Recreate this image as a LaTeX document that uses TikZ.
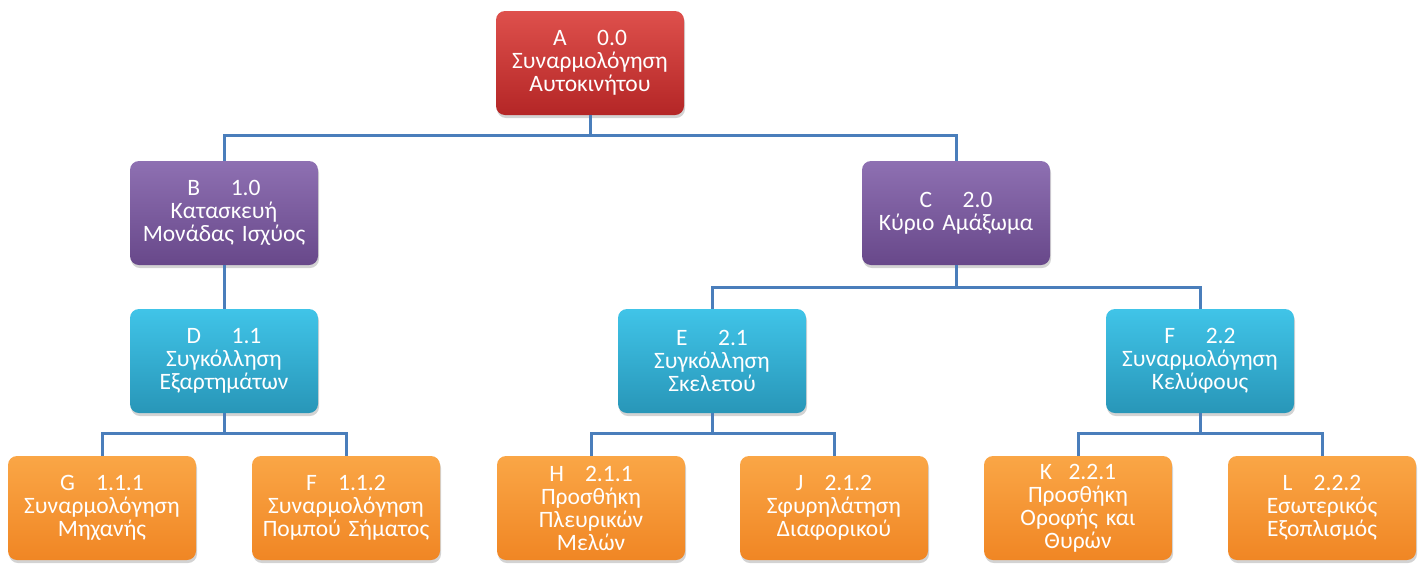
\documentclass[tikz,border=0pt]{standalone}
\usepackage{fontspec}
\setmainfont{Carlito}
\usetikzlibrary{shadows}
\definecolor{linkblue}{HTML}{4A7EBB}
\begin{document}
\begin{tikzpicture}[x=1pt,y=-1pt,
  wbsbox/.style={rounded corners=9pt, minimum width=188pt, minimum height=104pt,
    text width=184pt, align=center, text=white, inner sep=0pt,
    font=\fontsize{23.5}{23}\selectfont,
    drop shadow={shadow xshift=1pt, shadow yshift=-3pt, opacity=0.35}},
  redbox/.style={wbsbox, top color={rgb,255:red,222;green,80;blue,76}, middle color={rgb,255:red,200;green,55;blue,52}, bottom color={rgb,255:red,180;green,38;blue,38}},
  purplebox/.style={wbsbox, top color={rgb,255:red,142;green,112;blue,178}, middle color={rgb,255:red,122;green,88;blue,158}, bottom color={rgb,255:red,104;green,72;blue,138}},
  cyanbox/.style={wbsbox, top color={rgb,255:red,64;green,196;blue,232}, middle color={rgb,255:red,54;green,176;blue,212}, bottom color={rgb,255:red,40;green,150;blue,184}},
  orangebox/.style={wbsbox, top color={rgb,255:red,250;green,166;blue,70}, middle color={rgb,255:red,248;green,148;blue,50}, bottom color={rgb,255:red,240;green,134;blue,36}},
  link/.style={draw=linkblue, line width=3pt}]
\useasboundingbox (0,0) rectangle (1425,563);

% level 0
\node[redbox] (A) at (590,63) {A\hspace{1.3em}0.0\\Συναρμολόγηση\\Αυτοκινήτου};
% level 1
\node[purplebox] (B) at (224,213) {B\hspace{1.3em}1.0\\Κατασκευή\\Μονάδας Ισχύος};
\node[purplebox] (C) at (956,213) {C\hspace{1.3em}2.0\\Κύριο Αμάξωμα};
% level 2
\node[cyanbox] (D) at (224,361) {D\hspace{1.3em}1.1\\Συγκόλληση\\Εξαρτημάτων};
\node[cyanbox] (E) at (712,361) {E\hspace{1.3em}2.1\\Συγκόλληση\\Σκελετού};
\node[cyanbox] (F2) at (1200,361) {F\hspace{1.3em}2.2\\Συναρμολόγηση\\Κελύφους};
% level 3
\node[orangebox] (G) at (102,508) {G\hspace{0.9em}1.1.1\\Συναρμολόγηση\\Μηχανής};
\node[orangebox] (F1) at (346,508) {F\hspace{0.9em}1.1.2\\Συναρμολόγηση\\Πομπού Σήματος};
\node[orangebox] (H) at (591,508) {H\hspace{0.9em}2.1.1\\Προσθήκη\\Πλευρικών\\Μελών};
\node[orangebox] (J) at (834,508) {J\hspace{0.9em}2.1.2\\Σφυρηλάτηση\\Διαφορικού};
\node[orangebox] (K) at (1078,508) {K\hspace{0.7em}2.2.1\\Προσθήκη\\Οροφής και\\Θυρών};
\node[orangebox] (L) at (1322,508) {L\hspace{0.9em}2.2.2\\Εσωτερικός\\Εξοπλισμός};

% connectors
\coordinate (a0) at (590,135);
\coordinate (c0) at (956,287);
\coordinate (d0) at (224,433);
\coordinate (e0) at (712,433);
\coordinate (f0) at (1200,433);
\draw[link] (A.south) -- (a0) -| (B.north);
\draw[link] (a0) -| (C.north);
\draw[link] (B.south) -- (D.north);
\draw[link] (C.south) -- (c0) -| (E.north);
\draw[link] (c0) -| (F2.north);
\draw[link] (D.south) -- (d0) -| (G.north);
\draw[link] (d0) -| (F1.north);
\draw[link] (E.south) -- (e0) -| (H.north);
\draw[link] (e0) -| (J.north);
\draw[link] (F2.south) -- (f0) -| (K.north);
\draw[link] (f0) -| (L.north);
\end{tikzpicture}
\end{document}
